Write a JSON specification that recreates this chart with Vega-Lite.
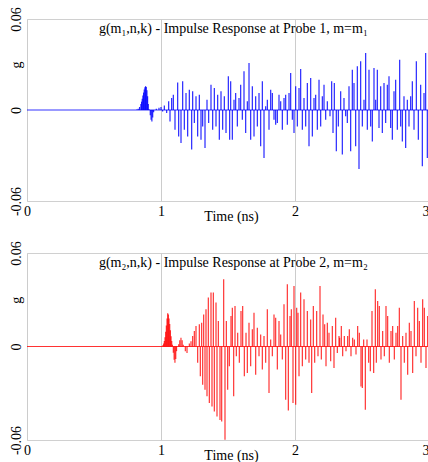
{
  "$schema": "https://vega.github.io/schema/vega-lite/v6.json",
  "padding": {"left": 8, "top": 6, "right": 0, "bottom": 0},
  "background": "white",
  "spacing": 16,
  "config": {
    "view": {"stroke": "#d0d0d0", "strokeWidth": 1},
    "axis": {"labelFont": "Liberation Serif", "titleFont": "Liberation Serif", "labelColor": "black", "titleColor": "black", "domain": false, "ticks": false, "labelFontSize": 14, "titleFontSize": 14, "titleFontWeight": "normal"}
  },
  "datasets": {
    "p1": [
      {"t":0.820,"g":0.0003},{"t":0.830,"g":0.0008},{"t":0.840,"g":0.0020},{"t":0.850,"g":0.0040},{"t":0.855,"g":0.0055},{"t":0.860,"g":0.0075},{"t":0.865,"g":0.0095},{"t":0.870,"g":0.0115},{"t":0.875,"g":0.0135},{"t":0.880,"g":0.0150},{"t":0.885,"g":0.0157},{"t":0.890,"g":0.0152},{"t":0.895,"g":0.0130},{"t":0.900,"g":0.0090},{"t":0.905,"g":0.0040},{"t":0.910,"g":0.0005},
      {"t":0.920,"g":-0.0035},{"t":0.926,"g":-0.0065},{"t":0.932,"g":-0.0075},{"t":0.938,"g":-0.0050},{"t":0.945,"g":-0.0015},
      {"t":0.965,"g":0.0008},{"t":0.985,"g":0.0015},{"t":1.000,"g":0.0020},{"t":1.012,"g":-0.0010},
      {"t":1.0249,"g":0.0029},{"t":1.0423,"g":-0.0020},{"t":1.0572,"g":0.0057},{"t":1.0672,"g":-0.0075},{"t":1.0796,"g":0.0079},{"t":1.0920,"g":0.0101},{"t":1.1045,"g":-0.0130},{"t":1.1244,"g":0.0182},{"t":1.1318,"g":-0.0174},{"t":1.1493,"g":-0.0217},{"t":1.1617,"g":0.0189},{"t":1.1741,"g":-0.0130},{"t":1.1866,"g":0.0112},{"t":1.1990,"g":-0.0174},{"t":1.2114,"g":0.0134},{"t":1.2289,"g":-0.0261},{"t":1.2363,"g":0.0123},{"t":1.2488,"g":-0.0086},{"t":1.2612,"g":0.0090},{"t":1.2736,"g":-0.0174},{"t":1.2861,"g":0.0101},{"t":1.2985,"g":-0.0196},{"t":1.3109,"g":-0.0108},{"t":1.3284,"g":-0.0250},{"t":1.3433,"g":0.0068},{"t":1.3557,"g":-0.0086},{"t":1.3731,"g":0.0167},{"t":1.3856,"g":-0.0130},{"t":1.3980,"g":0.0145},{"t":1.4104,"g":-0.0108},{"t":1.4229,"g":0.0101},{"t":1.4353,"g":-0.0196},{"t":1.4478,"g":0.0123},{"t":1.4602,"g":-0.0130},{"t":1.4726,"g":0.0090},{"t":1.4851,"g":-0.0152},{"t":1.5025,"g":0.0222},{"t":1.5124,"g":-0.0196},
      {"t":1.5199,"g":0.0189},{"t":1.5323,"g":-0.0196},{"t":1.5448,"g":0.0068},{"t":1.5572,"g":0.0112},{"t":1.5697,"g":-0.0108},{"t":1.5821,"g":0.0079},{"t":1.5946,"g":0.0167},{"t":1.6070,"g":-0.0064},{"t":1.6194,"g":0.0255},{"t":1.6319,"g":-0.0152},{"t":1.6443,"g":0.0057},{"t":1.6568,"g":0.0310},{"t":1.6692,"g":-0.0196},{"t":1.6816,"g":0.0156},{"t":1.6941,"g":-0.0174},{"t":1.7065,"g":0.0090},{"t":1.7190,"g":-0.0108},{"t":1.7314,"g":0.0112},{"t":1.7438,"g":-0.0239},{"t":1.7563,"g":0.0189},{"t":1.7687,"g":-0.0316},{"t":1.7811,"g":0.0024},{"t":1.7936,"g":0.0068},{"t":1.8060,"g":-0.0130},{"t":1.8185,"g":0.0134},{"t":1.8309,"g":0.0112},{"t":1.8433,"g":-0.0064},{"t":1.8558,"g":-0.0097},{"t":1.8682,"g":-0.0086},{"t":1.8806,"g":0.0101},{"t":1.8931,"g":0.0057},{"t":1.9055,"g":-0.0130},{"t":1.9180,"g":0.0079},{"t":1.9304,"g":0.0101},{"t":1.9428,"g":-0.0097},{"t":1.9553,"g":0.0112},{"t":1.9677,"g":0.0244},{"t":1.9802,"g":-0.0064},{"t":1.9926,"g":-0.0152},{"t":2.0050,"g":0.0156},{"t":2.0175,"g":-0.0108},{"t":2.0299,"g":0.0145},{"t":2.0423,"g":0.0270},{"t":2.0548,"g":-0.0130},{"t":2.0672,"g":0.0079},{"t":2.0797,"g":-0.0108},{"t":2.0921,"g":0.0178},{"t":2.1045,"g":-0.0239},{"t":2.1170,"g":0.0211},{"t":2.1294,"g":-0.0174},{"t":2.1418,"g":0.0079},{"t":2.1543,"g":0.0101},{"t":2.1667,"g":-0.0130},{"t":2.1792,"g":0.0200},{"t":2.1916,"g":-0.0108},{"t":2.2040,"g":0.0090},{"t":2.2165,"g":0.0167},{"t":2.2289,"g":-0.0064},{"t":2.2413,"g":0.0057},
      {"t":2.2612,"g":-0.0042},{"t":2.2736,"g":0.0189},{"t":2.2836,"g":-0.0152},{"t":2.2935,"g":0.0178},{"t":2.3084,"g":-0.0272},{"t":2.3234,"g":-0.0108},{"t":2.3408,"g":0.0123},{"t":2.3532,"g":-0.0294},{"t":2.3656,"g":0.0079},{"t":2.3781,"g":-0.0042},{"t":2.3905,"g":-0.0086},{"t":2.4030,"g":0.0156},{"t":2.4154,"g":-0.0272},{"t":2.4278,"g":0.0266},{"t":2.4403,"g":0.0178},{"t":2.4527,"g":-0.0239},{"t":2.4652,"g":0.0288},{"t":2.4776,"g":-0.0389},{"t":2.4900,"g":0.0321},{"t":2.5025,"g":-0.0108},{"t":2.5149,"g":0.0068},{"t":2.5273,"g":0.0376},{"t":2.5398,"g":-0.0130},{"t":2.5522,"g":0.0266},{"t":2.5647,"g":-0.0108},{"t":2.5771,"g":-0.0207},{"t":2.5895,"g":0.0277},{"t":2.6020,"g":0.0068},{"t":2.6144,"g":0.0266},{"t":2.6269,"g":-0.0119},{"t":2.6393,"g":0.0156},{"t":2.6517,"g":-0.0152},{"t":2.6642,"g":0.0178},{"t":2.6766,"g":-0.0086},{"t":2.6890,"g":0.0167},{"t":2.7015,"g":0.0222},{"t":2.7139,"g":-0.0119},{"t":2.7264,"g":-0.0196},{"t":2.7388,"g":0.0123},{"t":2.7512,"g":0.0200},{"t":2.7637,"g":-0.0130},{"t":2.7811,"g":0.0332},{"t":2.7886,"g":-0.0108},{"t":2.8010,"g":-0.0207},{"t":2.8134,"g":0.0090},{"t":2.8259,"g":-0.0250},{"t":2.8383,"g":0.0068},{"t":2.8507,"g":-0.0108},{"t":2.8632,"g":0.0090},{"t":2.8756,"g":0.0189},{"t":2.8881,"g":-0.0130},{"t":2.9055,"g":0.0321},{"t":2.9204,"g":-0.0196},{"t":2.9378,"g":0.0167},{"t":2.9502,"g":-0.0371},{"t":2.9627,"g":0.0112},{"t":2.9751,"g":0.0376},{"t":2.9875,"g":-0.0316}
    ],
    "p2": [
      {"t":1.000,"g":0.0002},{"t":1.015,"g":0.0010},{"t":1.020,"g":0.0020},{"t":1.025,"g":0.0035},{"t":1.030,"g":0.0060},{"t":1.035,"g":0.0095},{"t":1.040,"g":0.0135},{"t":1.045,"g":0.0180},{"t":1.050,"g":0.0213},{"t":1.055,"g":0.0205},{"t":1.060,"g":0.0180},{"t":1.065,"g":0.0145},{"t":1.070,"g":0.0105},{"t":1.075,"g":0.0065},{"t":1.080,"g":0.0035},{"t":1.085,"g":0.0012},
      {"t":1.092,"g":-0.0040},{"t":1.098,"g":-0.0085},{"t":1.104,"g":-0.0105},{"t":1.110,"g":-0.0080},{"t":1.116,"g":-0.0030},
      {"t":1.132,"g":0.0015},{"t":1.140,"g":0.0040},{"t":1.149,"g":0.0056},{"t":1.158,"g":0.0040},{"t":1.166,"g":0.0012},
      {"t":1.1816,"g":-0.0030},{"t":1.1941,"g":-0.0041},{"t":1.2115,"g":0.0019},{"t":1.2239,"g":0.0034},{"t":1.2363,"g":0.0067},{"t":1.2488,"g":0.0099},{"t":1.2612,"g":0.0131},{"t":1.2736,"g":-0.0105},{"t":1.2861,"g":0.0142},{"t":1.2935,"g":-0.0191},{"t":1.3035,"g":0.0153},{"t":1.3110,"g":-0.0245},{"t":1.3184,"g":0.0206},{"t":1.3284,"g":-0.0277},{"t":1.3358,"g":0.0239},{"t":1.3433,"g":-0.0320},{"t":1.3532,"g":0.0314},{"t":1.3607,"g":-0.0363},{"t":1.3731,"g":0.0346},{"t":1.3806,"g":-0.0385},{"t":1.3906,"g":0.0346},{"t":1.3980,"g":-0.0417},{"t":1.4105,"g":0.0282},{"t":1.4179,"g":-0.0449},{"t":1.4279,"g":0.0163},{"t":1.4403,"g":-0.0471},{"t":1.4528,"g":-0.0482},{"t":1.4677,"g":0.0432},{"t":1.4776,"g":-0.0598},{"t":1.4876,"g":0.0163},{"t":1.4975,"g":-0.0277},{"t":1.5100,"g":-0.0127},{"t":1.5224,"g":0.0196},{"t":1.5324,"g":0.0249},{"t":1.5423,"g":-0.0320},{"t":1.5523,"g":0.0260},{"t":1.5622,"g":-0.0062},{"t":1.5722,"g":0.0088},{"t":1.5846,"g":-0.0105},{"t":1.5970,"g":0.0228},{"t":1.6095,"g":0.0260},{"t":1.6219,"g":-0.0191},{"t":1.6344,"g":0.0088},
      {"t":1.6443,"g":-0.0170},{"t":1.6567,"g":0.0153},{"t":1.6692,"g":-0.0127},{"t":1.6816,"g":0.0110},{"t":1.6940,"g":0.0217},{"t":1.7065,"g":-0.0181},{"t":1.7189,"g":0.0120},{"t":1.7314,"g":-0.0062},{"t":1.7438,"g":0.0077},{"t":1.7562,"g":-0.0148},{"t":1.7687,"g":0.0067},{"t":1.7811,"g":-0.0105},{"t":1.7935,"g":0.0239},{"t":1.8060,"g":-0.0299},{"t":1.8184,"g":0.0045},{"t":1.8309,"g":-0.0062},{"t":1.8433,"g":0.0206},{"t":1.8557,"g":0.0185},{"t":1.8682,"g":-0.0148},{"t":1.8806,"g":0.0163},{"t":1.8931,"g":0.0077},{"t":1.9055,"g":-0.0084},{"t":1.9179,"g":0.0271},{"t":1.9304,"g":-0.0342},{"t":1.9428,"g":0.0400},{"t":1.9503,"g":-0.0411},{"t":1.9627,"g":0.0196},{"t":1.9727,"g":0.0239},{"t":1.9851,"g":-0.0363},{"t":1.9926,"g":0.0389},{"t":2.0050,"g":-0.0374},{"t":2.0125,"g":0.0249},{"t":2.0224,"g":0.0217},{"t":2.0299,"g":-0.0191},{"t":2.0423,"g":0.0346},{"t":2.0548,"g":-0.0127},{"t":2.0672,"g":0.0303},{"t":2.0796,"g":-0.0084},{"t":2.0921,"g":0.0228},{"t":2.1045,"g":-0.0105},{"t":2.1169,"g":0.0174},{"t":2.1244,"g":-0.0299},{"t":2.1368,"g":0.0260},{"t":2.1468,"g":-0.0105},{"t":2.1617,"g":0.0228},{"t":2.1716,"g":-0.0062},{"t":2.1866,"g":0.0389},{"t":2.1965,"g":-0.0084},{"t":2.2090,"g":0.0206},{"t":2.2214,"g":0.0142},{"t":2.2314,"g":-0.0127},{"t":2.2413,"g":0.0153},{"t":2.2537,"g":0.0088},{"t":2.2662,"g":-0.0095},{"t":2.2786,"g":0.0131},{"t":2.2910,"g":-0.0138},{"t":2.3035,"g":0.0185},{"t":2.3159,"g":-0.0041},{"t":2.3284,"g":0.0067},
      {"t":2.3333,"g":0.0056},{"t":2.3457,"g":0.0131},{"t":2.3557,"g":-0.0062},{"t":2.3681,"g":0.0067},{"t":2.3806,"g":-0.0030},{"t":2.3930,"g":0.0067},{"t":2.4054,"g":0.0110},{"t":2.4179,"g":-0.0062},{"t":2.4303,"g":0.0056},{"t":2.4428,"g":0.0045},{"t":2.4552,"g":-0.0052},{"t":2.4676,"g":0.0131},{"t":2.4801,"g":0.0088},{"t":2.4925,"g":-0.0256},{"t":2.5025,"g":-0.0267},{"t":2.5124,"g":0.0045},{"t":2.5249,"g":-0.0406},{"t":2.5373,"g":0.0045},{"t":2.5497,"g":-0.0105},{"t":2.5622,"g":-0.0159},{"t":2.5746,"g":0.0228},{"t":2.5871,"g":-0.0170},{"t":2.5995,"g":0.0368},{"t":2.6070,"g":-0.0105},{"t":2.6169,"g":0.0292},{"t":2.6293,"g":0.0260},{"t":2.6418,"g":-0.0084},{"t":2.6542,"g":0.0099},{"t":2.6667,"g":-0.0062},{"t":2.6791,"g":0.0260},{"t":2.6915,"g":0.0196},{"t":2.7040,"g":-0.0105},{"t":2.7164,"g":0.0099},{"t":2.7288,"g":0.0131},{"t":2.7413,"g":-0.0084},{"t":2.7537,"g":0.0088},{"t":2.7662,"g":0.0131},{"t":2.7786,"g":0.0249},{"t":2.7910,"g":-0.0342},{"t":2.8035,"g":0.0067},{"t":2.8159,"g":-0.0105},{"t":2.8283,"g":0.0088},{"t":2.8408,"g":-0.0181},{"t":2.8532,"g":0.0153},{"t":2.8657,"g":0.0099},{"t":2.8781,"g":-0.0170},{"t":2.8905,"g":0.0292},{"t":2.9030,"g":-0.0062},{"t":2.9154,"g":0.0249},{"t":2.9279,"g":0.0163},{"t":2.9403,"g":-0.0105},{"t":2.9527,"g":0.0303},{"t":2.9652,"g":0.0249},{"t":2.9776,"g":-0.0138},{"t":2.9900,"g":0.0196}
    ]
  },
  "vconcat": [
    {
      "width": 402,
      "height": 182,
      "layer": [
        {
          "data": {"values": [{}]},
          "mark": {"type": "rule", "color": "#0000ff", "strokeWidth": 1, "opacity": 0.8},
          "encoding": {"y": {"datum": 0, "type": "quantitative", "scale": {"domain": [-0.06, 0.06], "nice": false}}}
        },
        {
          "data": {"name": "p1"},
          "mark": {"type": "rule", "color": "#0000ff", "strokeWidth": 1.2, "opacity": 0.85},
          "encoding": {
            "x": {"field": "t", "type": "quantitative", "scale": {"domain": [0, 3], "nice": false},
              "axis": {"values": [0, 1, 2, 3], "format": "d", "grid": true, "gridColor": "#cccccc", "labelPadding": 3, "labelAlign": {"condition": {"test": "datum.value == 3", "value": "right"}, "value": "center"}, "title": "Time (ns)", "titleX": 204, "titleY": 19.5, "titleBaseline": "alphabetic", "titleAlign": "center", "titleAnchor": null}},
            "y": {"field": "g", "type": "quantitative", "scale": {"domain": [-0.06, 0.06], "nice": false},
              "axis": {"values": [-0.06, 0, 0.03, 0.06], "grid": false, "title": null, "labelAngle": -90, "labelPadding": 4, "labelOverlap": false, "labelExpr": "datum.value < -0.05 ? '-0.06' : (datum.value > 0.05 ? '0.06' : (datum.value > 0.01 ? 'g' : '0'))"}},
            "y2": {"datum": 0}
          }
        },
        {
          "data": {"values": [{}]},
          "mark": {"type": "text", "text": "g(m₁,n,k) - Impulse Response at Probe 1, m=m₁", "font": "Liberation Serif", "fontSize": 14, "color": "black", "baseline": "alphabetic", "align": "center", "dy": 14},
          "encoding": {"x": {"datum": 1.54, "type": "quantitative"}, "y": {"datum": 0.06, "type": "quantitative"}}
        }
      ]
    },
    {
      "width": 402,
      "height": 187,
      "layer": [
        {
          "data": {"values": [{}]},
          "mark": {"type": "rule", "color": "#ff0000", "strokeWidth": 1, "opacity": 0.8},
          "encoding": {"y": {"datum": 0, "type": "quantitative", "scale": {"domain": [-0.06, 0.06], "nice": false}}}
        },
        {
          "data": {"name": "p2"},
          "mark": {"type": "rule", "color": "#ff0000", "strokeWidth": 1.2, "opacity": 0.8},
          "encoding": {
            "x": {"field": "t", "type": "quantitative", "scale": {"domain": [0, 3], "nice": false},
              "axis": {"values": [0, 1, 2, 3], "format": "d", "grid": true, "gridColor": "#cccccc", "labelPadding": 3, "labelAlign": {"condition": {"test": "datum.value == 3", "value": "right"}, "value": "center"}, "title": "Time (ns)", "titleX": 204, "titleY": 19.5, "titleBaseline": "alphabetic", "titleAlign": "center", "titleAnchor": null}},
            "y": {"field": "g", "type": "quantitative", "scale": {"domain": [-0.06, 0.06], "nice": false},
              "axis": {"values": [-0.06, 0, 0.03, 0.06], "grid": false, "title": null, "labelAngle": -90, "labelPadding": 4, "labelOverlap": false, "labelExpr": "datum.value < -0.05 ? '-0.06' : (datum.value > 0.05 ? '0.06' : (datum.value > 0.01 ? 'g' : '0'))"}},
            "y2": {"datum": 0}
          }
        },
        {
          "data": {"values": [{}]},
          "mark": {"type": "text", "text": "g(m₂,n,k) - Impulse Response at Probe 2, m=m₂", "font": "Liberation Serif", "fontSize": 14, "color": "black", "baseline": "alphabetic", "align": "center", "dy": 14},
          "encoding": {"x": {"datum": 1.54, "type": "quantitative"}, "y": {"datum": 0.06, "type": "quantitative"}}
        }
      ]
    }
  ]
}
